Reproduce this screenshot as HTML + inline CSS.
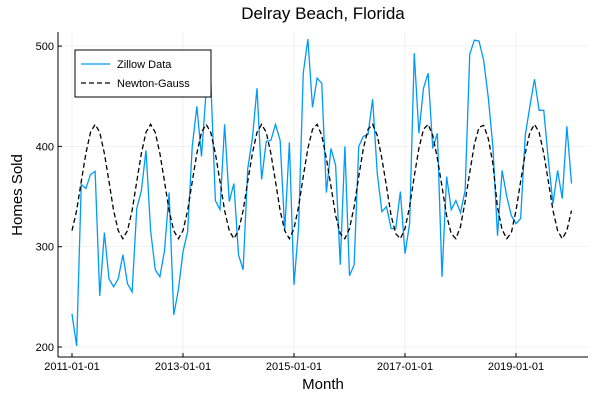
<!DOCTYPE html>
<html><head><meta charset="utf-8"><style>
body{margin:0;background:#fff;font-family:"Liberation Sans",sans-serif}
svg text{font-family:"Liberation Sans",sans-serif}
</style></head><body>
<svg id="c" width="600" height="400" xmlns="http://www.w3.org/2000/svg">
<rect width="600" height="400" fill="#fff"/>
<text x="323" y="19" font-size="17" text-anchor="middle" fill="#000">Delray Beach, Florida</text>
<g id="grid"></g><g id="axes"></g><g id="series"></g>
<text x="323" y="389" font-size="15" text-anchor="middle">Month</text>
<text transform="translate(22,195) rotate(-90)" font-size="15" text-anchor="middle">Homes Sold</text>
<g>
<rect x="75" y="50" width="136" height="47" fill="#fff" stroke="#000" stroke-width="1"/>
<line x1="81" y1="64" x2="110" y2="64" stroke="#009af9" stroke-width="1.3"/>
<text x="117" y="68" font-size="11">Zillow Data</text>
<line x1="81" y1="83" x2="110" y2="83" stroke="#000" stroke-width="1.3" stroke-dasharray="5,3"/>
<text x="117" y="87" font-size="11">Newton-Gauss</text>
</g>
</svg>
<script>
const zillow=[233,201,362,358,372,375,251,314,268,260,268,292,263,255,338,356,396,316,277,270,296,354,232,257,295,315,400,440,390,455,466,346,337,422,345,363,292,277,378,408,458,367,405,406,422,406,316,404,262,320,473,507,439,468,463,354,398,381,282,400,271,282,400,410,412,447,373,335,340,318,318,355,293,323,493,413,458,473,398,413,270,370,337,346,334,356,492,506,505,486,449,400,311,376,350,331,323,328,411,440,467,436,436,386,343,376,348,420,363];
const newtonGauss=[316,336,365,393,414,422,414,393,365,336,316,308,316,336,365,393,414,422,414,393,365,336,316,308,316,336,365,393,414,422,414,393,365,336,316,308,316,336,365,393,414,422,414,393,365,336,316,308,318,340,370,398,417,422,411,388,360,331,313,308,318,340,370,398,417,422,411,388,360,331,313,308,318,340,370,398,417,422,411,388,360,331,313,308,320,345,374,402,419,421,408,383,339,317,308,314,336,365,393,414,422,414,393,365,336,316,308,316,336];
const xTickLabels=["2011-01-01","2013-01-01","2015-01-01","2017-01-01","2019-01-01"];
const xTickMonths=[0,24,48,72,96];
const yTicks=[200,300,400,500];
const NS="http://www.w3.org/2000/svg";
const L=58,R=588,T=32,B=357;
const xs=m=>72+m*4.625;
const ys=v=>347-(v-200)*1.003;
function mk(t,a,p){const e=document.createElementNS(NS,t);for(const k in a)e.setAttribute(k,a[k]);p.appendChild(e);return e;}
const g=document.getElementById('grid'),ax=document.getElementById('axes'),s=document.getElementById('series');
xTickMonths.forEach((m,i)=>{
 const gl=mk('line',{x1:xs(m),x2:xs(m),y1:T,y2:B,stroke:'#000','stroke-opacity':0.1,'stroke-width':0.5},g);
 
 
 mk('line',{x1:xs(m),x2:xs(m),y1:B,y2:B-4,stroke:'#000'},ax);
 const t=mk('text',{x:xs(m),y:B+13,'font-size':11,'text-anchor':'middle'},ax);t.textContent=xTickLabels[i];
 
 
});
yTicks.forEach(v=>{
 const gl=mk('line',{x1:L,x2:R,y1:ys(v),y2:ys(v),stroke:'#000','stroke-opacity':0.1,'stroke-width':0.5},g);
 
 
 mk('line',{x1:L,x2:L+4,y1:ys(v),y2:ys(v),stroke:'#000'},ax);
 const t=mk('text',{x:L-4,y:ys(v)+4,'font-size':11,'text-anchor':'end'},ax);t.textContent=v;
 
 
});
mk('line',{x1:L,x2:R,y1:B,y2:B,stroke:'#000'},ax);
mk('line',{x1:L,x2:L,y1:T,y2:B,stroke:'#000'},ax);
const p1=mk('polyline',{points:zillow.map((v,i)=>xs(i)+','+ys(v)).join(' '),fill:'none',stroke:'#009af9','stroke-width':1.3},s);


const p2=mk('polyline',{points:newtonGauss.map((v,i)=>xs(i)+','+ys(v)).join(' '),fill:'none',stroke:'#000','stroke-width':1.3,'stroke-dasharray':'5,3'},s);


</script>
</body></html>
